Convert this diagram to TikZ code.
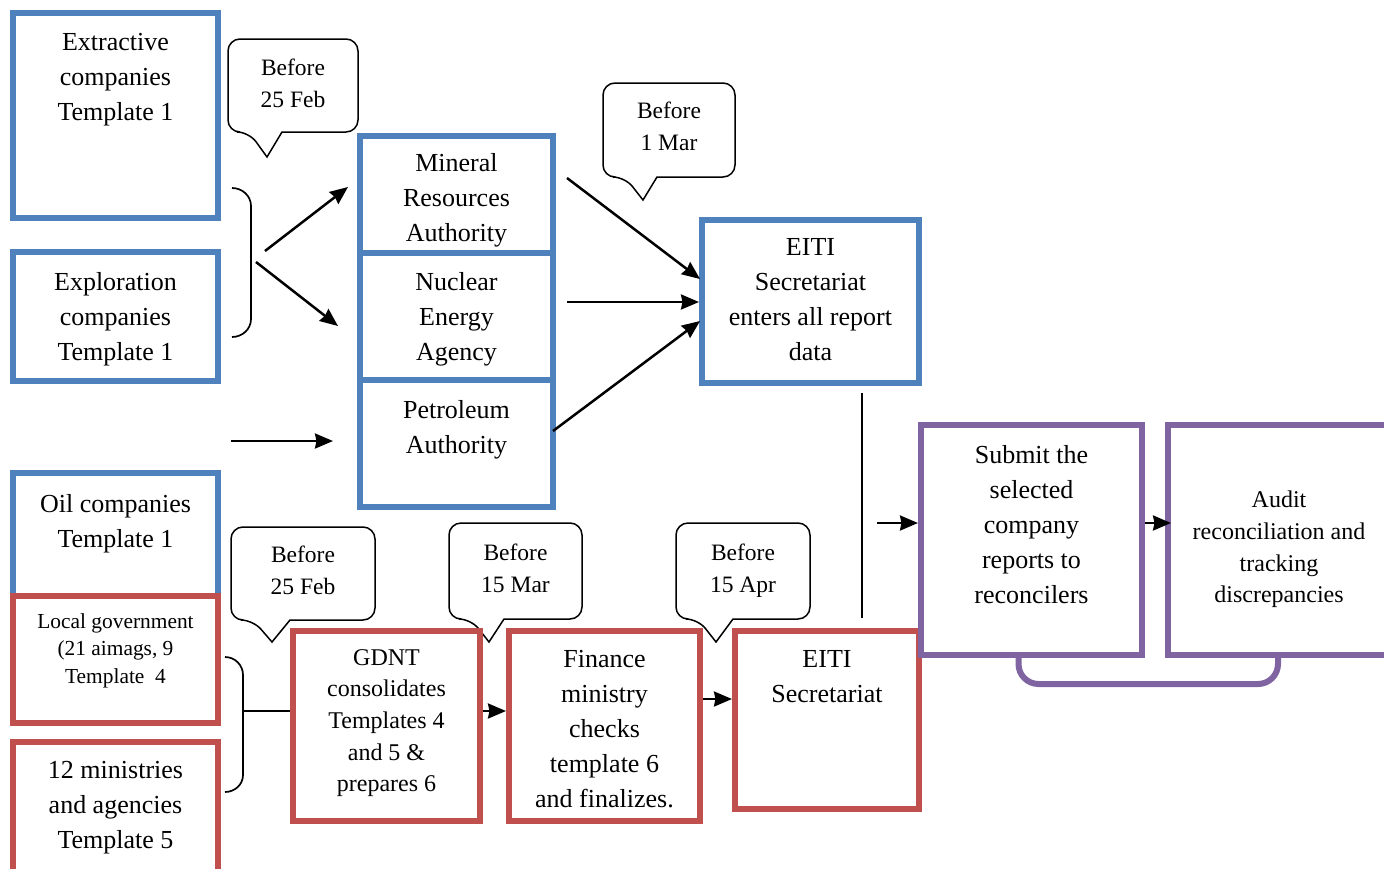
\documentclass[tikz,border=0pt]{standalone}
\usepackage{fontspec}
\setmainfont{Liberation Serif}
\usetikzlibrary{positioning}
\usetikzlibrary{arrows.meta}

\definecolor{eitiblue}{HTML}{4F81BD}
\definecolor{eitired}{HTML}{C0504D}
\definecolor{eitiviolet}{HTML}{8064A2}

\newcommand{\bodyfont}{\fontsize{26}{35}\selectfont}
\newcommand{\notefont}{\fontsize{23.5}{32}\selectfont}
\newcommand{\midfont}{\fontsize{24}{31.7}\selectfont}
\newcommand{\tinyfont}{\fontsize{21.4}{27.5}\selectfont}

\tikzset{
  frame/.style={line width=6pt, inner sep=0pt},
  bluebox/.style={frame, draw=eitiblue},
  redbox/.style={frame, draw=eitired},
  violetbox/.style={frame, draw=eitiviolet},
  boxtext/.style={anchor=north, align=center, inner sep=0pt, font=\bodyfont},
  notetext/.style={boxtext, font=\notefont},
  callout/.style={draw=black, line width=1.5pt},
  brace/.style={draw=black, line width=1.7pt},
  link/.style={draw=black, line width=2pt},
  arr/.style={draw=black, line width=2.5pt, -{Stealth[length=18pt, width=15pt, inset=1.5pt]}},
}

\begin{document}
\begin{tikzpicture}[x=1pt, y=-1pt]
\useasboundingbox (0,0) rectangle (1384,868);
\clip (0,0) rectangle (1384,868);

% date bubbles
\begin{scope}
  \draw[callout] (282,132) [rounded corners=12pt] -- (358,132) -- (358,39) -- (228,39) -- (228,132) -- (249,132) [sharp corners] -- (267,157) -- cycle;
  \draw[callout] (657,177) [rounded corners=12pt] -- (735,177) -- (735,83) -- (603,83) -- (603,177) -- (625,177) [sharp corners] -- (643,200) -- cycle;
  \draw[callout] (290,620) [rounded corners=12pt] -- (375,620) -- (375,527) -- (231,527) -- (231,620) -- (253,620) [sharp corners] -- (272,642) -- cycle;
  \draw[callout] (504,619) [rounded corners=12pt] -- (582,619) -- (582,523) -- (449,523) -- (449,619) -- (471,619) [sharp corners] -- (489,642) -- cycle;
  \draw[callout] (733,619) [rounded corners=12pt] -- (810,619) -- (810,523) -- (676,523) -- (676,619) -- (698,619) [sharp corners] -- (716,642) -- cycle;

  \node[notetext] (d1) at (293,59) {Before\\25 Feb};
  \node[notetext] (d2) at (669,102) {Before\\1 Mar};
  \node[notetext] (d3) at (303,546) {Before\\25 Feb};
  \node[notetext] (d4) at (515.5,544) {Before\\15 Mar};
  \node[notetext] (d5) at (743,544) {Before\\15 Apr};
\end{scope}

% reporting bodies
\node[bluebox, minimum width=205pt, minimum height=205pt] (extr) at (115.5,115.5) {};
\node[bluebox, minimum width=205pt, minimum height=129pt] (expl) at (115.5,316.5) {};
\node[bluebox, minimum width=205pt, minimum height=123pt] (oil) at (115.5,534.5) {};
\node[redbox, minimum width=205pt, minimum height=127pt] (local) at (115.5,659.5) {};
\node[redbox, minimum width=205pt, minimum height=138pt] (mins) at (115.5,811) {};

\node[bluebox, minimum width=193pt, minimum height=117pt] (mra) at (456.5,194.5) {};
\node[bluebox, minimum width=193pt, minimum height=127pt] (nea) at (456.5,316.5) {};
\node[bluebox, minimum width=193pt, minimum height=127pt] (pa) at (456.5,443.5) {};
\node[bluebox, minimum width=217pt, minimum height=163pt] (eitib) at (810.5,301.5) {};

\node[redbox, minimum width=187pt, minimum height=190pt] (gdnt) at (386.5,726) {};
\node[redbox, minimum width=191pt, minimum height=190pt] (fin) at (604.5,726) {};
\node[redbox, minimum width=184pt, minimum height=178pt] (secr) at (827,720) {};

\node[violetbox, minimum width=221pt, minimum height=230pt] (sub) at (1031.5,540) {};
\node[violetbox, minimum width=232pt, minimum height=230pt] (aud) at (1284,540) {};
\draw[eitiviolet, line width=6pt, rounded corners=20pt] ([xshift=-13pt]sub.south) -- ++(0,26) -| ([xshift=-6pt]aud.south);

% box texts
\node[boxtext, below=23pt of extr.north] (extr-t) {Extractive\\companies\\Template 1};
\node[boxtext, below=23pt of expl.north] (expl-t) {Exploration\\companies\\Template 1};
\node[boxtext, below=24pt of oil.north] (oil-t) {Oil companies\\Template 1};
\node[boxtext, below=20pt of local.north, font=\tinyfont] (local-t) {Local government\\(21 aimags, 9\\Template\ \ 4};
\node[boxtext, below=22pt of mins.north] (mins-t) {12 ministries\\and agencies\\Template 5};
\node[boxtext, below=20pt of mra.north] (mra-t) {Mineral\\Resources\\Authority};
\node[boxtext, below=22pt of nea.north] (nea-t) {Nuclear\\Energy\\Agency};
\node[boxtext, below=23pt of pa.north] (pa-t) {Petroleum\\Authority};
\node[boxtext, below=21pt of eitib.north] (eitib-t) {EITI\\Secretariat\\enters all report\\data};
\node[boxtext, below=21pt of gdnt.north, font=\midfont] (gdnt-t) {GDNT\\consolidates\\Templates 4\\and 5 \&\\prepares 6};
\node[boxtext, below=22pt of fin.north] (fin-t) {Finance\\ministry\\checks\\template 6\\and finalizes.};
\node[boxtext, below=22pt of secr.north] (secr-t) {EITI\\Secretariat};
\node[boxtext, below=23pt of sub.north] (sub-t) {Submit the\\selected\\company\\reports to\\reconcilers};
\node[boxtext, below=69pt of aud.north, xshift=-5pt, font=\midfont] (aud-t) {Audit\\reconciliation and\\tracking\\discrepancies};

% brackets
\draw[brace] (232,188) to[out=0, in=90] (251,206) -- (251,319) to[out=-90, in=0] (232,337);
\draw[brace] (225,657) to[out=0, in=90] (243,675) -- (243,775) to[out=-90, in=0] (225,792);

% connectors
\coordinate (s1) at (265,251);
\coordinate (e1) at (348,187);
\coordinate (s2) at (256,262);
\coordinate (e2) at (338,326);
\coordinate (s3) at (231,441);
\coordinate (e3) at (333,441);
\coordinate (s4) at (567,178);
\coordinate (e4) at (700,279);
\coordinate (s5) at (567,302);
\coordinate (s6) at (553,431);
\coordinate (e6) at (700,321);
\coordinate (v1) at (862,393);
\coordinate (v2) at (862,618);
\coordinate (v3) at (877,523);
\coordinate (lb) at (243,711);
\coordinate (fs) at (0,699);

\draw[arr] (s1) -- (e1);
\draw[arr] (s2) -- (e2);
\draw[arr] (s3) -- (e3);
\draw[arr] (s4) -- (e4);
\draw[arr] (s5) -- (s5 -| eitib.west);
\draw[arr] (s6) -- (e6);
\draw[link] (v1) -- (v2);
\draw[arr] (v3) -- (v3 -| sub.west);
\draw[arr, shorten >=-6pt] (sub.east |- v3) -- (aud.west |- v3);
\draw[link] (lb) -- (lb -| gdnt.west);
\draw[arr] (lb -| gdnt.east) -- (lb -| fin.west);
\draw[arr] (fin.east |- fs) -- (secr.west |- fs);
\end{tikzpicture}
\end{document}
